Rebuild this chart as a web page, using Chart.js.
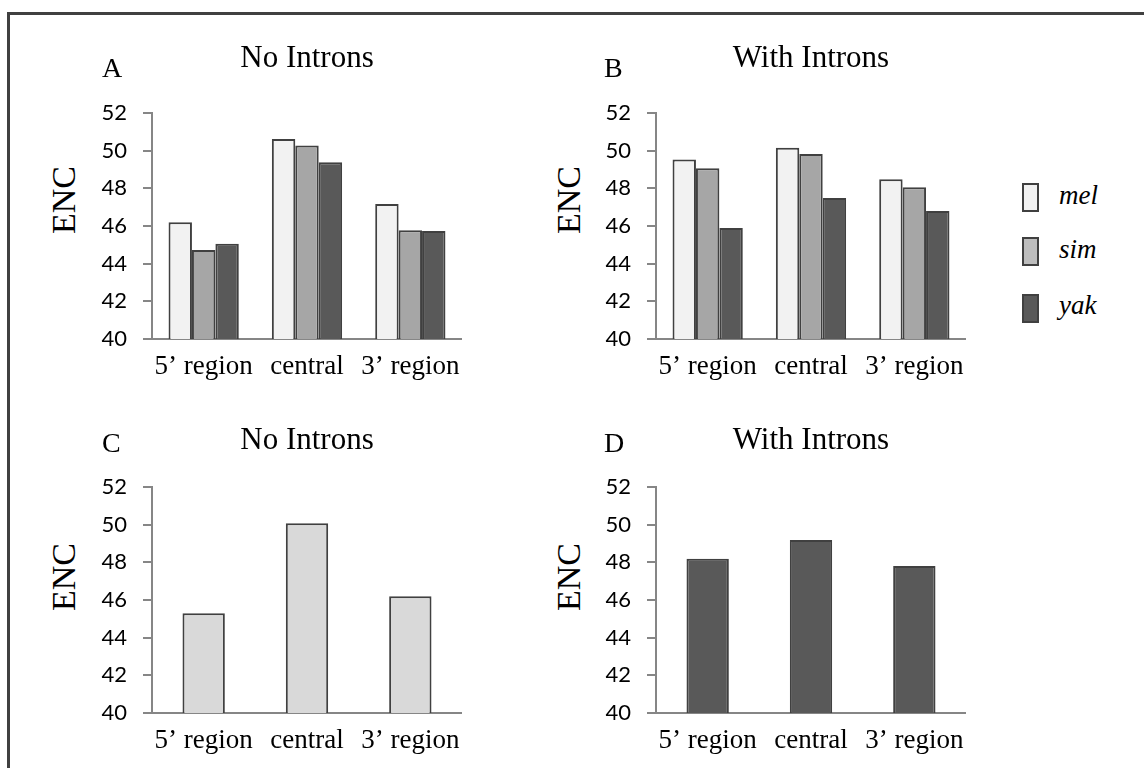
<!DOCTYPE html>
<html>
<head>
<meta charset="utf-8">
<script src="https://cdn.jsdelivr.net/npm/chart.js@4.4.1/dist/chart.umd.min.js"></script>
<style>
html,body{margin:0;padding:0;background:#fff;}
body{width:1144px;height:768px;position:relative;overflow:hidden;}
.frame{position:absolute;left:7px;top:12px;width:1300px;height:900px;border-top:3px solid #404040;border-left:3px solid #404040;}
canvas{position:absolute;}
.lbl{position:absolute;font-family:"Liberation Serif","Times New Roman",serif;color:#000;line-height:1;white-space:nowrap;}
.letter{font-size:28px;}
.enc{font-size:34px;transform:translate(-50%,-50%) rotate(-90deg);}
.lg-box{position:absolute;width:17px;height:29px;box-sizing:border-box;border:2px solid #404040;}
.lg-txt{font-style:italic;font-size:27px;}
</style>
</head>
<body>
<div class="frame"></div>
<canvas id="cA"></canvas>
<canvas id="cB"></canvas>
<canvas id="cC"></canvas>
<canvas id="cD"></canvas>

<div class="lbl letter" style="left:102px;top:54px;">A</div>
<div class="lbl letter" style="left:604px;top:54px;">B</div>
<div class="lbl letter" style="left:102px;top:429px;">C</div>
<div class="lbl letter" style="left:604px;top:429px;">D</div>

<div class="lbl enc" style="left:64px;top:200px;">ENC</div>
<div class="lbl enc" style="left:569px;top:200px;">ENC</div>
<div class="lbl enc" style="left:64px;top:577px;">ENC</div>
<div class="lbl enc" style="left:569px;top:577px;">ENC</div>

<div class="lg-box" style="left:1022px;top:183px;background:#f2f2f2;"></div>
<div class="lg-box" style="left:1022px;top:237px;background:#bdbdbd;"></div>
<div class="lg-box" style="left:1022px;top:294px;background:#595959;"></div>
<div class="lbl lg-txt" id="lg0" style="left:1059px;top:182px;"></div>
<div class="lbl lg-txt" id="lg1" style="left:1059px;top:236px;"></div>
<div class="lbl lg-txt" id="lg2" style="left:1059px;top:292px;"></div>

<script>
// ---- data ----
const categories = ["5\u2019 region", "central", "3\u2019 region"];
const seriesNames = ["mel", "sim", "yak"];
const yTickValues = [40, 42, 44, 46, 48, 50, 52];

const noIntronsMel = [46.2, 50.62, 47.17];
const noIntronsSim = [44.72, 50.27, 45.77];
const noIntronsYak = [45.06, 49.38, 45.73];

const withIntronsMel = [49.53, 50.16, 48.48];
const withIntronsSim = [49.07, 49.82, 48.06];
const withIntronsYak = [45.89, 47.49, 46.79];

const combinedNoIntrons = [45.3, 50.08, 46.2];
const combinedWithIntrons = [48.19, 49.19, 47.8];

const panelTitles = ["No Introns", "With Introns", "No Introns", "With Introns"];

// ---- styles ----
const AX = '#868686';
const EDGE = '#404040';
const serif = '"Liberation Serif", "Times New Roman", serif';
const seriesColors = ['#f2f2f2', '#a6a6a6', '#595959'];

seriesNames.forEach((n, i) => { document.getElementById('lg' + i).textContent = n; });

function ds(label, data, color) {
  return { label, data, backgroundColor: color, borderColor: EDGE, borderWidth: 2, borderSkipped: 'start' };
}

function zeroPad(s) { s.paddingLeft = 0; s.paddingRight = 0; s.paddingTop = 0; s.paddingBottom = 0; }

function makePanel(id, left, top, w, h, padBottom, title, datasets, catPct) {
  const cv = document.getElementById(id);
  cv.width = w; cv.height = h;
  cv.style.left = left + 'px'; cv.style.top = top + 'px';
  cv.style.width = w + 'px'; cv.style.height = h + 'px';
  new Chart(cv, {
    type: 'bar',
    data: { labels: categories, datasets },
    options: {
      responsive: false,
      animation: false,
      events: [],
      devicePixelRatio: 1,
      layout: { padding: 0, autoPadding: false },
      datasets: { bar: { categoryPercentage: catPct, barPercentage: 1 } },
      plugins: {
        legend: { display: false },
        tooltip: { enabled: false },
        title: {
          display: true, text: title, fullSize: false, align: 'center', color: '#000',
          font: { family: serif, size: 31, weight: 'normal', lineHeight: 1.2 },
          padding: { top: 10, bottom: padBottom }
        }
      },
      scales: {
        x: {
          grid: { display: false, drawTicks: false },
          border: { display: true, color: AX, width: 2 },
          ticks: { color: '#000', padding: 12, maxRotation: 0, autoSkip: false,
                   font: { family: serif, size: 27 } },
          afterFit(s) { s.height = 45; zeroPad(s); }
        },
        y: {
          min: yTickValues[0], max: yTickValues[yTickValues.length - 1],
          afterBuildTicks(s) { s.ticks = yTickValues.map(v => ({ value: v })); },
          grid: { drawOnChartArea: false, drawTicks: true, tickLength: 9, color: AX, lineWidth: 2 },
          border: { display: true, color: AX, width: 2 },
          ticks: { color: '#000', padding: 16, font: { family: 'Lato, "Open Sans", sans-serif', size: 22 } },
          afterFit(s) { s.width = 60; zeroPad(s); }
        }
      }
    }
  });
}

// title box height = 10 + 31*1.2 + padBottom
makePanel('cA', 92, 30, 370, 354, 35.8, panelTitles[0], [
  ds(seriesNames[0], noIntronsMel, seriesColors[0]),
  ds(seriesNames[1], noIntronsSim, seriesColors[1]),
  ds(seriesNames[2], noIntronsYak, seriesColors[2])
], 0.68);

makePanel('cB', 596, 30, 370, 354, 35.8, panelTitles[1], [
  ds(seriesNames[0], withIntronsMel, seriesColors[0]),
  ds(seriesNames[1], withIntronsSim, seriesColors[1]),
  ds(seriesNames[2], withIntronsYak, seriesColors[2])
], 0.68);

makePanel('cC', 92, 412, 370, 346, 27.8, panelTitles[2], [
  ds('all', combinedNoIntrons, '#d9d9d9')
], 0.41);

makePanel('cD', 596, 412, 370, 346, 27.8, panelTitles[3], [
  ds('all', combinedWithIntrons, '#595959')
], 0.41);
</script>
</body>
</html>
